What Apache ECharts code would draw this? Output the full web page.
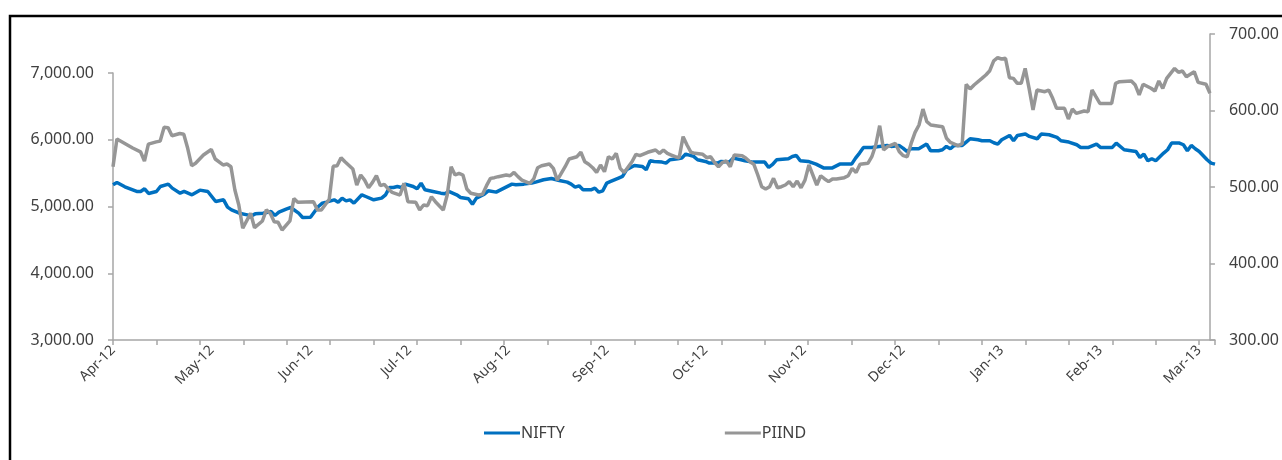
<!DOCTYPE html>
<html>
<head>
<meta charset="utf-8">
<script src="https://cdn.jsdelivr.net/npm/echarts@6/dist/echarts.min.js"></script>
<style>
html,body{margin:0;padding:0;background:#fff;}
#chart{width:1282px;height:460px;}
</style>
</head>
<body>
<div id="chart"></div>
<script>
// Month labels shown every 25 trading days
const monthLabels = ['Apr-12','May-12','Jun-12','Jul-12','Aug-12','Sep-12','Oct-12','Nov-12','Dec-12','Jan-13','Feb-13','Mar-13'];

// NIFTY (left axis): trading-day index and close
const niftyDays = [0,1,3,6,7,8,9,11,12,14,15,17,18,20,22,24,26,28,29,30,32,34,35,36,38,40,41,42,44,45,47,48,50,52,53,54,56,57,58,59,60,61,63,64,66,68,69,70,71,72,73,74,76,77,78,79,81,83,84,85,87,88,90,91,92,94,95,97,99,101,102,104,106,107,109,111,113,115,116,117,118,119,121,122,123,124,125,126,128,129,130,132,134,135,136,137,139,140,141,143,144,145,147,148,150,151,153,154,156,157,159,160,162,163,165,166,167,168,171,172,173,174,176,178,180,182,184,187,188,189,190,192,194,196,197,199,200,201,202,204,206,207,209,210,211,212,213,215,216,217,219,220,222,223,224,225,227,228,229,231,232,234,235,237,239,240,242,244,245,247,249,250,253,254,256,259,260,261,262,263,264,266,267,268,270,271,272,273,274,275,277,278,279];
const niftyValues = [5325,5360,5295,5225,5225,5265,5195,5225,5300,5335,5275,5200,5225,5175,5245,5225,5075,5100,4990,4950,4900,4875,4860,4890,4900,4925,4865,4915,4965,4985,4900,4835,4840,5000,5050,5065,5100,5065,5125,5085,5100,5050,5175,5150,5100,5125,5175,5285,5285,5300,5285,5335,5300,5265,5350,5250,5225,5200,5190,5225,5175,5135,5115,5035,5125,5185,5235,5215,5275,5335,5325,5335,5350,5365,5400,5420,5390,5365,5335,5290,5310,5250,5250,5275,5215,5235,5350,5375,5425,5450,5550,5615,5600,5550,5685,5675,5665,5650,5700,5715,5725,5785,5750,5700,5675,5650,5650,5675,5665,5725,5700,5685,5665,5665,5665,5585,5630,5700,5715,5750,5765,5685,5675,5635,5575,5575,5635,5635,5725,5800,5885,5885,5900,5915,5900,5915,5875,5825,5865,5865,5935,5835,5835,5850,5900,5865,5915,5915,5965,6015,6000,5985,5985,5955,5935,6000,6065,5985,6065,6085,6050,6015,6085,6075,6035,5985,5965,5925,5885,5885,5935,5885,5885,5950,5850,5825,5735,5785,5685,5715,5685,5800,5850,5950,5950,5925,5835,5915,5865,5825,5700,5650,5635];

// PIIND (right axis): trading-day index and close
const piindDays = [0,1,5,7,8,9,11,12,13,14,15,17,18,19,20,21,23,25,26,28,29,30,31,32,33,35,36,38,39,40,41,42,43,45,46,47,51,52,53,55,56,57,58,59,61,62,63,64,65,66,67,68,69,70,71,73,74,75,77,78,79,80,81,82,84,85,86,87,88,89,90,91,93,94,95,96,97,98,100,101,102,103,104,106,107,108,109,111,112,113,115,116,118,119,120,121,122,123,124,125,126,127,128,129,130,132,133,134,136,138,139,140,141,142,143,144,145,146,147,148,150,151,152,153,154,155,156,157,158,160,161,162,163,164,165,166,167,168,169,170,171,172,173,174,175,176,177,178,179,180,181,182,183,184,186,187,188,189,190,192,193,194,195,196,197,199,200,201,202,203,204,205,206,207,208,211,212,213,215,216,217,218,219,221,222,223,224,225,226,227,228,229,230,231,232,233,234,235,237,238,239,240,241,242,243,244,245,247,248,249,250,251,254,255,256,259,260,261,262,264,265,266,267,268,270,271,272,273,275,276,278,279];
const piindValues = [526.5,562.7,551,546,534,556,559,560,578,577.6,567,570,569,550.6,527.8,531,541.8,549,536.6,528.8,530,526.5,496,476.5,446,465.6,446.8,455.6,470,465.6,454.6,453.8,443.8,455.6,485,480,480.8,470,470,484,527,527.8,538.3,533,523.5,502.6,515.7,509,499,506,514.7,501.7,503.5,497.4,493,489.5,504.8,480.8,480,470,476.5,475.6,487.3,480.8,470,489.5,526.5,515.7,517.9,515.7,497.4,491.8,489.5,490.4,501.7,511.3,512.2,513.5,515.7,514.7,519,513.5,509,504.8,510.5,525.2,527.8,530,524.4,509,526.5,536.6,539.6,545.4,533,529.7,525.2,519,528.8,520,539.6,536.6,544,524.4,519,533,542.7,541,545.4,548.4,544,548.4,544,541.8,539.6,538.3,565.8,554.9,545.4,544,542.7,538.3,539.6,532,526.5,532,534,526.5,541.8,541,537.5,533,529.7,515.7,500.4,497.4,500.4,511.3,499,500.4,502.6,507,500.4,507.8,499,509,528.8,515.7,502.6,514.7,510.5,507,510.5,510.5,512.2,514.7,524.4,519,529.7,531,539.6,554.9,580.1,548.4,552.7,557,546,541,539.6,557,571.4,581,601.9,585.4,581,578.9,563.7,558.2,553.8,557,634.3,628.1,633.3,642,646.4,652,665,669,667.3,668.2,642.9,642,635.5,635.5,655,629,600.7,626.8,624.6,626.8,615.9,602.9,602.9,602.9,588.9,601.9,596.3,599.3,598.4,626.8,618,609.3,609.3,635.5,637.6,638.6,633.3,620.3,634.3,629,625.5,638.6,629,642,655,649.9,651.6,644.2,650.7,636.8,634.3,622.5];

const FONT = 'Noto Sans';
const AXIS_GREY = '#a6a6a6';
const TEXT = '#404040';
const fmt2 = v => Number(v).toLocaleString('en-US', {minimumFractionDigits: 2, maximumFractionDigits: 2});

const chart = echarts.init(document.getElementById('chart'), null, {renderer: 'canvas'});
chart.setOption({
  animation: false,
  backgroundColor: '#fff',
  textStyle: {fontFamily: FONT},
  graphic: [{
    type: 'rect', silent: true, z: 100,
    shape: {x: 10, y: 16, width: 1400, height: 600},
    style: {fill: 'none', stroke: '#000', lineWidth: 2.5}
  }],
  legend: {
    left: 484, top: 425, padding: 0,
    itemWidth: 36, itemHeight: 3, itemGap: 160,
    icon: 'rect',
    textStyle: {fontFamily: FONT, fontSize: 16, color: TEXT, padding: [0, 0, 0, -4]},
    data: ['NIFTY', 'PIIND']
  },
  grid: [
    {left: 113, right: 67, top: 73, bottom: 120, containLabel: false},
    {left: 113, right: 67, top: 34, bottom: 120, containLabel: false}
  ],
  xAxis: [
    {
      gridIndex: 0, type: 'value', position: 'bottom', min: 0, max: 279, interval: 25,
      axisLine: {show: true, onZero: false, lineStyle: {color: AXIS_GREY, width: 1.5}},
      axisTick: {show: false},
      splitLine: {show: false},
      axisLabel: {
        rotate: 45, margin: 8, fontSize: 14, color: TEXT, fontFamily: FONT,
        showMaxLabel: false,
        formatter: v => (v % 25 === 0 ? (monthLabels[v / 25] || '') : '')
      }
    },
    {
      gridIndex: 0, type: 'value', position: 'bottom', offset: 0, min: 0, max: 279, interval: 11,
      axisLine: {show: false, onZero: false},
      axisTick: {show: true, length: 5, lineStyle: {color: AXIS_GREY, width: 1.5}},
      axisLabel: {show: false},
      splitLine: {show: false}
    },
    {gridIndex: 1, type: 'value', min: 0, max: 279, show: false, axisLine: {onZero: false}}
  ],
  yAxis: [
    {
      gridIndex: 0, type: 'value', position: 'left', min: 3000, max: 7000, interval: 1000,
      axisLine: {show: true, onZero: false, lineStyle: {color: AXIS_GREY, width: 1.5}},
      axisTick: {show: true, length: 5, lineStyle: {color: AXIS_GREY, width: 1.5}},
      splitLine: {show: false},
      axisLabel: {margin: 19, fontSize: 16, color: TEXT, fontFamily: FONT, formatter: fmt2}
    },
    {
      gridIndex: 1, type: 'value', position: 'right', min: 300, max: 700, interval: 100,
      axisLine: {show: true, onZero: false, lineStyle: {color: AXIS_GREY, width: 1.5}},
      axisTick: {show: true, length: 5, lineStyle: {color: AXIS_GREY, width: 1.5}},
      splitLine: {show: false},
      axisLabel: {margin: 19, fontSize: 16, color: TEXT, fontFamily: FONT, formatter: fmt2}
    }
  ],
  series: [
    {
      name: 'NIFTY', type: 'line', xAxisIndex: 0, yAxisIndex: 0,
      data: niftyDays.map((d, i) => [d, niftyValues[i]]),
      showSymbol: false, symbol: 'none',
      lineStyle: {color: '#0070c0', width: 3.5},
      itemStyle: {color: '#0070c0'},
      z: 2
    },
    {
      name: 'PIIND', type: 'line', xAxisIndex: 2, yAxisIndex: 1,
      data: piindDays.map((d, i) => [d, piindValues[i]]),
      showSymbol: false, symbol: 'none',
      lineStyle: {color: '#969696', width: 3.5},
      itemStyle: {color: '#969696'},
      z: 3
    }
  ]
});
</script>
</body>
</html>
